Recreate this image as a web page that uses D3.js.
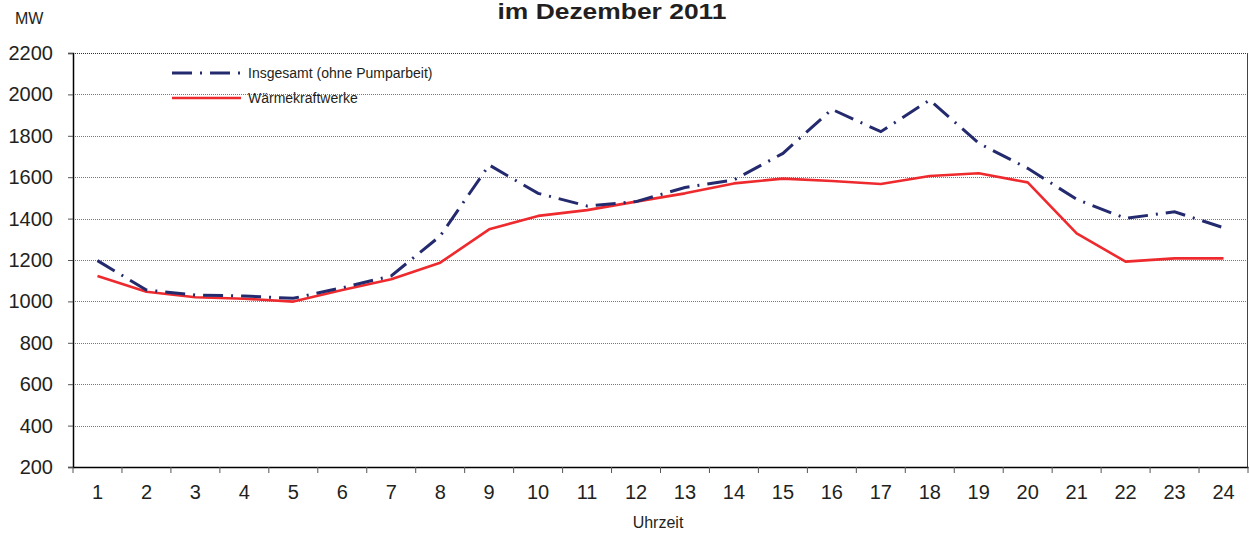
<!DOCTYPE html>
<html>
<head>
<meta charset="utf-8">
<script src="https://cdn.jsdelivr.net/npm/d3@7"></script>
<style>
  body { margin: 0; background: #fff; }
  svg { display: block; font-family: "Liberation Sans", Arial, sans-serif; }
</style>
</head>
<body>
<div id="chart"></div>
<script>
// Hours of the day
const hours = d3.range(1, 25);
// Insgesamt (ohne Pumparbeit), MW
const totalValues = [1197, 1055, 1031, 1026, 1015, 1066, 1123, 1316, 1659, 1522, 1461, 1482,
                     1550, 1587, 1715, 1928, 1820, 1973, 1764, 1643, 1493, 1401, 1433, 1356];
// Wärmekraftwerke, MW
const thermalValues = [1123, 1047, 1020, 1013, 999, 1055, 1107, 1187, 1348, 1413, 1441, 1482,
                       1522, 1570, 1593, 1582, 1567, 1606, 1619, 1575, 1329, 1192, 1208, 1208];
const yTicks = d3.range(200, 2201, 200);
const seriesNames = ["Insgesamt (ohne Pumparbeit)", "Wärmekraftwerke"];

const W = 1249, H = 533;
const margin = { top: 53, right: 1, bottom: 66, left: 73 };
const textColor = "#231f20";

const svg = d3.select("#chart").append("svg")
  .attr("width", W)
  .attr("height", H);

const x = d3.scaleBand()
  .domain(hours)
  .range([margin.left, W - margin.right])
  .padding(0);

const y = d3.scaleLinear()
  .domain([200, 2200])
  .range([H - margin.bottom, margin.top]);

// Gridlines
svg.append("g")
  .selectAll("line")
  .data(yTicks.slice(1))
  .enter().append("line")
  .attr("x1", margin.left)
  .attr("x2", W - margin.right)
  .attr("y1", d => Math.round(y(d)) + 0.5)
  .attr("y2", d => Math.round(y(d)) + 0.5)
  .attr("stroke", d => d === 2200 ? "#333" : "#777")
  .attr("stroke-width", 1)
  .attr("stroke-dasharray", "1,1");

// Right frame
svg.append("line")
  .attr("x1", W - margin.right - 0.5)
  .attr("x2", W - margin.right - 0.5)
  .attr("y1", y(2200))
  .attr("y2", y(200))
  .attr("stroke", "#444")
  .attr("stroke-width", 1);

// Y axis
const yAxis = svg.append("g")
  .attr("transform", `translate(${margin.left},0)`)
  .call(d3.axisLeft(y).tickValues(yTicks).tickSize(5).tickPadding(15).tickFormat(d3.format("d")));
yAxis.select(".domain").attr("stroke", "#000").attr("stroke-width", 1.5);
yAxis.selectAll(".tick line").attr("stroke", "#555");
yAxis.selectAll(".tick text")
  .style("font-size", "20px")
  .attr("fill", textColor)
  .attr("font-family", "'Liberation Sans', Arial, sans-serif");

// X axis (labels at band centres, ticks at band edges)
const xAxis = svg.append("g")
  .attr("transform", `translate(0,${y(200)})`)
  .call(d3.axisBottom(x).tickSize(0).tickPadding(18));
xAxis.select(".domain").attr("stroke", "#000").attr("stroke-width", 1.5);
xAxis.selectAll(".tick text")
  .style("font-size", "20px")
  .attr("fill", textColor)
  .attr("font-family", "'Liberation Sans', Arial, sans-serif");

const edges = hours.map(h => x(h)).concat([x.range()[1]]);
svg.append("g")
  .selectAll("line")
  .data(edges)
  .enter().append("line")
  .attr("x1", d => d)
  .attr("x2", d => d)
  .attr("y1", y(200))
  .attr("y2", y(200) + 6)
  .attr("stroke", "#555")
  .attr("stroke-width", 1);

// Lines
const line = values => d3.line()
  .x((d, i) => x(hours[i]) + x.bandwidth() / 2)
  .y(d => y(d))(values);

svg.append("path")
  .attr("d", line(thermalValues))
  .attr("fill", "none")
  .attr("stroke", "#ee2a2e")
  .attr("stroke-width", 2.6)
  .attr("stroke-linejoin", "round");

svg.append("path")
  .attr("d", line(totalValues))
  .attr("fill", "none")
  .attr("stroke", "#242a6e")
  .attr("stroke-width", 3)
  .attr("stroke-dasharray", "20,8,2,8");

// Legend
const legend = svg.append("g");
const legendRows = [
  { name: seriesNames[0], color: "#242a6e", dash: "20,8,2,8", width: 3, y: 73 },
  { name: seriesNames[1], color: "#ee2a2e", dash: null, width: 2.6, y: 98 }
];
legendRows.forEach(r => {
  legend.append("line")
    .attr("x1", 172).attr("x2", 241)
    .attr("y1", r.y).attr("y2", r.y)
    .attr("stroke", r.color)
    .attr("stroke-width", r.width)
    .attr("stroke-dasharray", r.dash);
  legend.append("text")
    .attr("x", 248)
    .attr("y", r.y + 5)
    .style("font-size", "14px")
    .attr("fill", textColor)
    .text(r.name);
});

// Titles
svg.append("text")
  .attr("x", 612)
  .attr("y", 19)
  .attr("text-anchor", "middle")
  .style("font-size", "22px")
  .style("font-weight", "bold")
  .attr("fill", textColor)
  .attr("textLength", 229)
  .attr("lengthAdjust", "spacingAndGlyphs")
  .text("im Dezember 2011");

svg.append("text")
  .attr("x", 15)
  .attr("y", 24)
  .style("font-size", "16px")
  .attr("fill", textColor)
  .text("MW");

svg.append("text")
  .attr("x", 658)
  .attr("y", 528)
  .attr("text-anchor", "middle")
  .style("font-size", "16px")
  .attr("fill", textColor)
  .text("Uhrzeit");
</script>
</body>
</html>
